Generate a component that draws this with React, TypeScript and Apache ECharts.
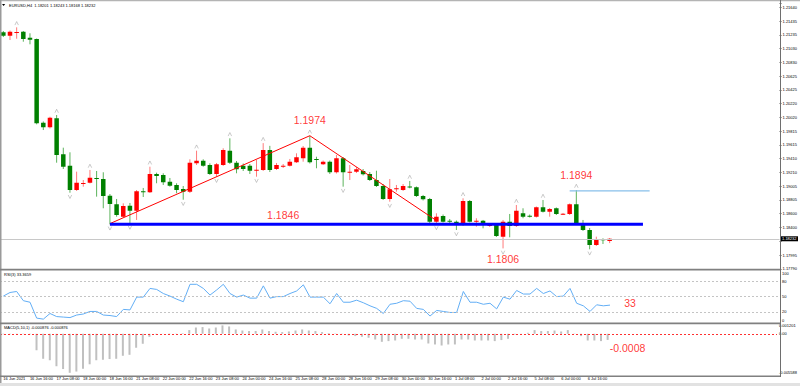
import React, { useEffect, useRef } from 'react';
import * as echarts from 'echarts';

const FONT = 'Liberation Sans, Arial, sans-serif';

const timeLabels = [
  '16 Jun 2021', '16 Jun 16:00', '17 Jun 08:00', '18 Jun 00:00', '18 Jun 16:00', '21 Jun 08:00',
  '22 Jun 00:00', '22 Jun 16:00', '23 Jun 08:00', '24 Jun 00:00', '24 Jun 16:00', '25 Jun 08:00',
  '28 Jun 00:00', '28 Jun 16:00', '29 Jun 08:00', '30 Jun 00:00', '30 Jun 16:00', '1 Jul 08:00',
  '2 Jul 00:00', '2 Jul 16:00', '5 Jul 08:00', '6 Jul 00:00', '6 Jul 16:00',
];

const priceTickLabels = [
  '1.17790', '1.17995', '1.18195', '1.18400', '1.18600', '1.18805', '1.19005', '1.19210', '1.19410', '1.19615',
  '1.19815', '1.20020', '1.20220', '1.20425', '1.20625', '1.20830', '1.21030', '1.21235', '1.21435', '1.21640',
];
const PRICE_MIN = 1.1779;
const PRICE_TOP_TICK = 1.2164;
const PRICE_MAX = 1.21703;

const rsiTickLabels = [0, 20, 50, 80, 100];
const rsiLevels = [20, 50, 80];
const MACD_MIN = -0.005588;
const MACD_MAX = 0.001201;

const opens = [
  1.21272, 1.21221, 1.21270, 1.21280, 1.21192, 1.21173, 1.19941, 1.19873, 1.20006, 1.19476,
  1.19308, 1.18950, 1.19041, 1.19058, 1.19127, 1.19112, 1.18866, 1.18740, 1.18557, 1.18719,
  1.18645, 1.18931, 1.18916, 1.19186, 1.19171, 1.19072, 1.19024, 1.18965, 1.18925, 1.19343,
  1.19381, 1.19318, 1.19186, 1.19318, 1.19529, 1.19352, 1.19308, 1.19308, 1.19240, 1.19245,
  1.19539, 1.19259, 1.19299, 1.19308, 1.19358, 1.19417, 1.19573, 1.19407, 1.19329, 1.19367,
  1.19211, 1.19417, 1.19205, 1.19220, 1.19230, 1.19186, 1.19097, 1.19009, 1.18818, 1.18960,
  1.18950, 1.19003, 1.18990, 1.18862, 1.18818, 1.18484, 1.18567, 1.18498, 1.18484, 1.18435,
  1.18788, 1.18489, 1.18498, 1.18420, 1.18435, 1.18263, 1.18484, 1.18420, 1.18607, 1.18572,
  1.18557, 1.18696, 1.18631, 1.18681, 1.18592, 1.18597, 1.18740, 1.18445, 1.18361, 1.18141,
  1.18229, 1.18201,
];
const highs = [
  1.21291, 1.21298, 1.21345, 1.21291, 1.21257, 1.21180, 1.19959, 1.20029, 1.20054, 1.19573,
  1.19505, 1.19220, 1.19097, 1.19245, 1.19230, 1.19211, 1.18891, 1.18818, 1.18754, 1.18759,
  1.18950, 1.18980, 1.19293, 1.19205, 1.19196, 1.19127, 1.19049, 1.19009, 1.19402, 1.19529,
  1.19402, 1.19343, 1.19348, 1.19564, 1.19711, 1.19377, 1.19340, 1.19333, 1.19392, 1.19640,
  1.19600, 1.19348, 1.19333, 1.19407, 1.19490, 1.19598, 1.19749, 1.19440, 1.19384, 1.19384,
  1.19465, 1.19436, 1.19318, 1.19289, 1.19259, 1.19215, 1.19234, 1.19038, 1.19112, 1.19024,
  1.19038, 1.19083, 1.19002, 1.18877, 1.18833, 1.18607, 1.18589, 1.18523, 1.18501, 1.18828,
  1.18803, 1.18534, 1.18509, 1.18464, 1.18457, 1.18509, 1.18597, 1.18729, 1.18681, 1.18589,
  1.18707, 1.18803, 1.18685, 1.18693, 1.18612, 1.18752, 1.18950, 1.18509, 1.18391, 1.18263,
  1.18239, 1.18243,
];
const lows = [
  1.21202, 1.21158, 1.21177, 1.21133, 1.21095, 1.19917, 1.19833, 1.19856, 1.19352, 1.19259,
  1.18910, 1.18936, 1.18999, 1.19046, 1.18852, 1.18681, 1.18445, 1.18557, 1.18545, 1.18457,
  1.18509, 1.18847, 1.18906, 1.19049, 1.19024, 1.18999, 1.18902, 1.18807, 1.18906, 1.19318,
  1.19293, 1.19171, 1.19146, 1.19304, 1.19333, 1.19196, 1.19230, 1.19186, 1.19146, 1.19230,
  1.19215, 1.19245, 1.19274, 1.19296, 1.19348, 1.19367, 1.19340, 1.19270, 1.19318, 1.19186,
  1.19193, 1.18999, 1.19097, 1.19200, 1.19164, 1.19083, 1.18994, 1.18803, 1.18778, 1.18925,
  1.18936, 1.18975, 1.18847, 1.18796, 1.18464, 1.18450, 1.18472, 1.18464, 1.18361, 1.18420,
  1.18472, 1.18410, 1.18386, 1.18406, 1.18258, 1.18090, 1.18254, 1.18406, 1.18534, 1.18545,
  1.18545, 1.18619, 1.18557, 1.18582, 1.18582, 1.18582, 1.18435, 1.18347, 1.18077, 1.18126,
  1.18155, 1.18168,
];
const closes = [
  1.21221, 1.21280, 1.21276, 1.21173, 1.21163, 1.19932, 1.19873, 1.20014, 1.19465, 1.19293,
  1.18950, 1.19058, 1.19053, 1.19131, 1.19118, 1.18862, 1.18744, 1.18582, 1.18715, 1.18645,
  1.18932, 1.18921, 1.19186, 1.19156, 1.19064, 1.19013, 1.18950, 1.18925, 1.19352, 1.19381,
  1.19308, 1.19186, 1.19329, 1.19539, 1.19352, 1.19255, 1.19259, 1.19234, 1.19249, 1.19539,
  1.19245, 1.19318, 1.19308, 1.19367, 1.19432, 1.19573, 1.19358, 1.19398, 1.19367, 1.19211,
  1.19417, 1.19211, 1.19220, 1.19255, 1.19181, 1.19097, 1.19009, 1.18818, 1.18960, 1.18975,
  1.19009, 1.18994, 1.18862, 1.18813, 1.18484, 1.18557, 1.18484, 1.18489, 1.18435, 1.18788,
  1.18484, 1.18498, 1.18435, 1.18450, 1.18273, 1.18484, 1.18420, 1.18645, 1.18557, 1.18557,
  1.18696, 1.18631, 1.18671, 1.18597, 1.18601, 1.18740, 1.18445, 1.18361, 1.18141, 1.18229,
  1.18211, 1.18232,
];

const rsiValues = [
  51, 58, 60, 42, 39, 8, 6, 17, 11, 10,
  9, 14, 16, 21, 21, 14, 13, 11, 25, 24,
  49, 49, 66, 64, 56, 51, 45, 40, 74, 74,
  66, 53, 63, 74, 56, 49, 53, 47, 47, 71,
  47, 50, 50, 56, 61, 73, 49, 49, 49, 36,
  56, 39, 39, 43, 38, 32, 27, 17, 35, 37,
  42, 41, 27, 25, 12, 23, 21, 19, 19, 60,
  39, 39, 35, 37, 26, 49, 45, 62, 55, 55,
  66, 56, 61, 50, 51, 66, 37, 32, 21, 34,
  32, 33.37,
];

const macdValues = [
  -0.00008, -0.00006, -0.00004, -0.00005, -0.00007, -0.00236, -0.00358, -0.00379, -0.00465, -0.00505,
  -0.005588, -0.00541, -0.00501, -0.00437, -0.00379, -0.00372, -0.00362, -0.00358, -0.00315, -0.00301,
  -0.002, -0.00143, -0.00043, -0.0001, 0.00002, 0.00005, 0.00003, 0.00008, 0.00053, 0.0009,
  0.00096, 0.00076, 0.0009, 0.001201, 0.00105, 0.00062, 0.00047, 0.00039, 0.00039, 0.00062,
  0.00039, 0.00029, 0.00024, 0.00033, 0.00047, 0.00062, 0.00047, 0.00039, 0.00024, 0.0001,
  0.00005, -0.00005, -0.00024, -0.00033, -0.00043, -0.00057, -0.00082, -0.00115, -0.00105, -0.00096,
  -0.00072, -0.00072, -0.00082, -0.00082, -0.00139, -0.00153, -0.00168, -0.00153, -0.00153, -0.00082,
  -0.00082, -0.00096, -0.00096, -0.00096, -0.00105, -0.0009, -0.00072, -0.0001, 0.00002, 0.00014,
  0.00053, 0.00039, 0.00039, 0.00047, 0.00033, 0.00053, 0.00004, -0.00033, -0.00096, -0.00096,
  -0.00105, -0.000876,
];

const fractalUp = [2, 8, 13, 22, 29, 34, 39, 46, 61, 69, 77, 81, 86];
const fractalDown = [10, 16, 19, 27, 32, 38, 51, 58, 65, 68, 75, 88];

const trendPoints = [[16, 1.18455], [46, 1.19749], [65, 1.185]];
const supportPoints = [[16, 1.18445], [95.9, 1.18445]];
const resistancePoints = [[85, 1.18936], [96.9, 1.18936]];

const priceNoteX = [45.85, 42.0, 85.97, 74.98];
const priceNoteY = [1.19975, 1.18575, 1.19174, 1.17927];
const priceNoteText = ['1.1974', '1.1846', '1.1894', '1.1806'];
const rsiNote = [93.8, 37.5];
const macdNote = [93.9, -0.00207];

const SLOTS = 117;
const categories = Array.from({ length: SLOTS }, (_, i) => String(i));

export default function App() {
  const ref = useRef<HTMLDivElement>(null);

  useEffect(() => {
    const chart = echarts.init(ref.current as HTMLDivElement, undefined, { renderer: 'svg', width: 800, height: 386 });

    const lastClose = closes[closes.length - 1];
    const priceInterval = (PRICE_TOP_TICK - PRICE_MIN) / 19;
    const priceFmt = (v: number) => {
      const k = Math.round((v - PRICE_MIN) / priceInterval);
      if (k < 0 || k >= priceTickLabels.length) return '';
      if (Math.abs(v - (PRICE_MIN + k * priceInterval)) > priceInterval * 0.1) return '';
      // the current-price box covers the tick label beneath it
      if (Math.abs(v - lastClose) < priceInterval * 0.4) return '';
      return priceTickLabels[k];
    };

    const candleData = opens.map((o, i) => [i, o, closes[i], lows[i], highs[i]]);

    const xBase = {
      type: 'category',
      data: categories,
      boundaryGap: true,
      axisLine: { show: false },
      axisTick: { show: false },
      axisLabel: { show: false },
      splitLine: { show: false },
    };

    const option: any = {
      animation: false,
      backgroundColor: '#ffffff',
      textStyle: { fontFamily: FONT },
      grid: [
        { left: -1, right: 20, top: 3, height: 265.8 },
        { left: -1, right: 20, top: 271, height: 51.2 },
        { left: -1, right: 20, top: 325.4, height: 47.4 },
      ],
      xAxis: [
        { ...xBase, gridIndex: 0 },
        { ...xBase, gridIndex: 1 },
        {
          ...xBase,
          gridIndex: 2,
          axisLabel: {
            show: true,
            interval: 3,
            align: 'left',
            fontSize: 4,
            color: '#000',
            margin: 4,
            fontFamily: FONT,
            formatter: (value: string) => {
              const i = Number(value);
              if (i % 4 !== 0) return '';
              const k = i / 4;
              return k < timeLabels.length ? timeLabels[k] : '';
            },
          },
        },
      ],
      yAxis: [
        {
          type: 'value',
          gridIndex: 0,
          position: 'right',
          min: PRICE_MIN,
          max: PRICE_MAX,
          interval: priceInterval,
          axisLine: { show: false },
          axisTick: { show: true, length: 2, lineStyle: { color: '#000', width: 0.6 } },
          splitLine: { show: false },
          axisLabel: { fontSize: 4, color: '#000', margin: 3, fontFamily: FONT, formatter: priceFmt },
        },
        {
          type: 'value',
          gridIndex: 1,
          position: 'right',
          min: 0,
          max: 100,
          interval: 10,
          axisLine: { show: false },
          axisTick: { show: false },
          splitLine: { show: false },
          axisLabel: {
            fontSize: 4,
            color: '#000',
            margin: 2,
            fontFamily: FONT,
            verticalAlignMaxLabel: 'top',
            verticalAlignMinLabel: 'bottom',
            formatter: (v: number) => (rsiTickLabels.indexOf(Math.round(v)) >= 0 && Math.abs(v - Math.round(v)) < 1e-6 ? String(Math.round(v)) : ''),
          },
        },
        {
          type: 'value',
          gridIndex: 2,
          position: 'right',
          min: MACD_MIN,
          max: MACD_MAX,
          interval: -MACD_MIN,
          axisLine: { show: false },
          axisTick: { show: false },
          splitLine: { show: false },
          axisLabel: {
            fontSize: 4,
            color: '#000',
            margin: 2,
            fontFamily: FONT,
            formatter: (v: number) => (Math.abs(v) < 1e-9 ? '0.00' : v.toFixed(6)),
          },
        },
      ],
      series: [
        {
          type: 'custom',
          xAxisIndex: 0,
          yAxisIndex: 0,
          data: candleData,
          encode: { x: 0, y: [1, 2, 3, 4] },
          clip: true,
          silent: true,
          z: 2,
          renderItem: (params: any, api: any) => {
            const idx = api.value(0);
            const o = api.value(1);
            const c = api.value(2);
            const l = api.value(3);
            const h = api.value(4);
            const top = api.coord([idx, Math.max(o, c)]);
            const bot = api.coord([idx, Math.min(o, c)]);
            const hi = api.coord([idx, h]);
            const lo = api.coord([idx, l]);
            const up = c >= o;
            const x = top[0];
            const bw = 4.5;
            const bodyH = Math.max(bot[1] - top[1], 1);
            return {
              type: 'group',
              children: [
                {
                  type: 'line',
                  shape: { x1: x, y1: hi[1], x2: x, y2: lo[1] },
                  style: { stroke: up ? '#ff7a7a' : '#5cb35c', lineWidth: 1 },
                },
                {
                  type: 'rect',
                  shape: { x: x - bw / 2, y: top[1], width: bw, height: bodyH },
                  style: { fill: up ? '#ff0000' : '#008000' },
                },
              ],
            };
          },
          markLine: {
            silent: true,
            precision: 5,
            symbol: ['none', 'none'],
            lineStyle: { color: '#c8c8c8', width: 1, type: 'solid' },
            label: {
              show: true,
              position: 'end',
              distance: 1,
              formatter: lastClose.toFixed(5),
              backgroundColor: '#000',
              color: '#fff',
              fontSize: 4,
              fontFamily: FONT,
              padding: [0.5, 1.5],
            },
            data: [{ yAxis: lastClose }],
          },
        },
        {
          type: 'line',
          xAxisIndex: 0,
          yAxisIndex: 0,
          data: trendPoints,
          symbol: 'none',
          silent: true,
          z: 4,
          lineStyle: { color: '#ff0000', width: 1 },
        },
        {
          type: 'line',
          xAxisIndex: 0,
          yAxisIndex: 0,
          data: supportPoints,
          symbol: 'none',
          silent: true,
          z: 4,
          lineStyle: { color: '#0000ff', width: 3 },
        },
        {
          type: 'line',
          xAxisIndex: 0,
          yAxisIndex: 0,
          data: resistancePoints,
          symbol: 'none',
          silent: true,
          z: 4,
          lineStyle: { color: '#87bfea', width: 1.2 },
        },
        {
          type: 'scatter',
          xAxisIndex: 0,
          yAxisIndex: 0,
          data: fractalUp.map((i) => [i, highs[i]]),
          symbol: 'path://M0,8L4,0L8,8',
          symbolSize: [3.5, 3.5],
          symbolOffset: [0, -4],
          silent: true,
          z: 3,
          itemStyle: { color: 'none', borderColor: '#a0a0a0', borderWidth: 0.7 },
        },
        {
          type: 'scatter',
          xAxisIndex: 0,
          yAxisIndex: 0,
          data: fractalDown.map((i) => [i, lows[i]]),
          symbol: 'path://M0,0L4,8L8,0',
          symbolSize: [3.5, 3.5],
          symbolOffset: [0, 4],
          silent: true,
          z: 3,
          itemStyle: { color: 'none', borderColor: '#a0a0a0', borderWidth: 0.7 },
        },
        {
          type: 'scatter',
          xAxisIndex: 0,
          yAxisIndex: 0,
          data: priceNoteX.map((x, k) => ({ value: [x, priceNoteY[k]], label: { formatter: priceNoteText[k] } })),
          symbolSize: 1,
          silent: true,
          z: 6,
          itemStyle: { color: 'transparent' },
          label: { show: true, position: 'inside', color: '#ff0000', fontSize: 10.5, fontFamily: FONT },
        },
        {
          type: 'line',
          xAxisIndex: 1,
          yAxisIndex: 1,
          data: rsiValues,
          symbol: 'none',
          silent: true,
          z: 3,
          lineStyle: { color: '#62aef5', width: 1 },
          markLine: {
            silent: true,
            symbol: ['none', 'none'],
            label: { show: false },
            lineStyle: { color: '#c4c4c4', width: 1, type: [2, 2] },
            data: rsiLevels.map((v) => ({ yAxis: v })),
          },
        },
        {
          type: 'scatter',
          xAxisIndex: 1,
          yAxisIndex: 1,
          data: [{ value: rsiNote, label: { formatter: '33' } }],
          symbolSize: 1,
          silent: true,
          z: 6,
          itemStyle: { color: 'transparent' },
          label: { show: true, position: 'inside', color: '#ff0000', fontSize: 10.5, fontFamily: FONT },
        },
        {
          type: 'bar',
          xAxisIndex: 2,
          yAxisIndex: 2,
          data: macdValues,
          barWidth: 2,
          silent: true,
          z: 2,
          itemStyle: { color: '#c0c0c0' },
          markLine: {
            silent: true,
            symbol: ['none', 'none'],
            label: { show: false },
            lineStyle: { color: '#ff3030', width: 1, type: [2, 2] },
            data: [{ yAxis: 0 }],
          },
        },
        {
          type: 'scatter',
          xAxisIndex: 2,
          yAxisIndex: 2,
          data: [{ value: macdNote, label: { formatter: '-0.0008' } }],
          symbolSize: 1,
          silent: true,
          z: 6,
          itemStyle: { color: 'transparent' },
          label: { show: true, position: 'inside', color: '#ff0000', fontSize: 10.5, fontFamily: FONT },
        },
      ],
      graphic: [
        { type: 'rect', silent: true, z: 100, shape: { x: 0, y: 0, width: 800, height: 1.3 }, style: { fill: '#b4b4b4' } },
        { type: 'rect', silent: true, z: 100, shape: { x: 0, y: 0, width: 1.5, height: 383 }, style: { fill: '#9a9a9a' } },
        { type: 'rect', silent: true, z: 100, shape: { x: 0, y: 268.8, width: 780.5, height: 1.8 }, style: { fill: '#808080' } },
        { type: 'rect', silent: true, z: 100, shape: { x: 0, y: 322.4, width: 780.5, height: 1.8 }, style: { fill: '#808080' } },
        { type: 'rect', silent: true, z: 100, shape: { x: 0, y: 375.6, width: 780.5, height: 1.5 }, style: { fill: '#808080' } },
        { type: 'rect', silent: true, z: 100, shape: { x: 780, y: 0, width: 1, height: 377 }, style: { fill: '#6e6e6e' } },
        { type: 'rect', silent: true, z: 100, shape: { x: 0, y: 383, width: 800, height: 3 }, style: { fill: '#e2e2e2' } },
        { type: 'polygon', silent: true, z: 100, shape: { points: [[2, 4], [5.2, 4], [3.6, 5.9]] }, style: { fill: '#000' } },
        {
          type: 'text', silent: true, z: 100, x: 9, y: 5,
          style: { text: 'EURUSD,H4  1.18201 1.18243 1.18168 1.18232', fontSize: 4, fontFamily: FONT, fill: '#000', verticalAlign: 'middle' },
        },
        {
          type: 'text', silent: true, z: 100, x: 4, y: 274.3,
          style: { text: 'RSI(3) 33.3659', fontSize: 4, fontFamily: FONT, fill: '#000', verticalAlign: 'middle' },
        },
        {
          type: 'text', silent: true, z: 100, x: 4, y: 327.2,
          style: { text: 'MACD(5,10,1) -0.000876 -0.000876', fontSize: 4, fontFamily: FONT, fill: '#000', verticalAlign: 'middle' },
        },
      ],
    };

    chart.setOption(option);
    return () => chart.dispose();
  }, []);

  return (
    <div
      ref={ref}
      style={{ position: 'fixed', left: 0, top: 0, width: 800, height: 386, background: '#fff' }}
    />
  );
}
